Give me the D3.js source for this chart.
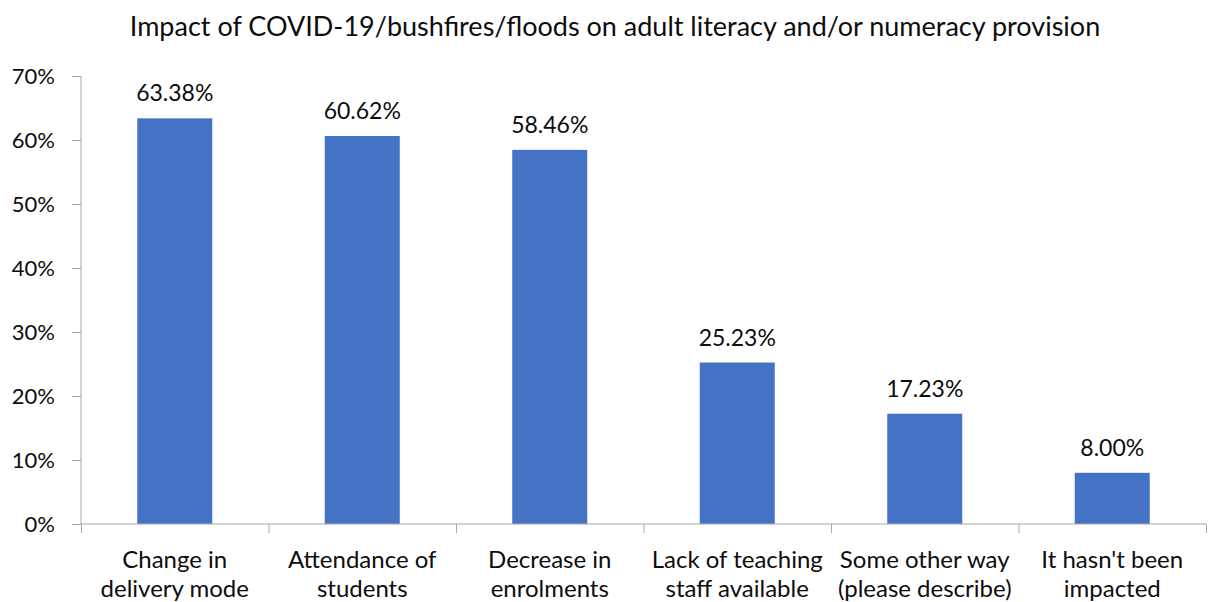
<!DOCTYPE html>
<html>
<head>
<meta charset="utf-8">
<script src="https://cdn.jsdelivr.net/npm/d3@7"></script>
<style>
  body { margin: 0; background: #fff; }
  svg text { font-family: Lato, "Open Sans", sans-serif; fill: #0d0d0d; }
</style>
</head>
<body>
<div id="chart"></div>
<script>
var chartTitle = "Impact of COVID-19/bushfires/floods on adult literacy and/or numeracy provision";
var categories = [
  ["Change in", "delivery mode"],
  ["Attendance of", "students"],
  ["Decrease in", "enrolments"],
  ["Lack of teaching", "staff available"],
  ["Some other way", "(please describe)"],
  ["It hasn't been", "impacted"]
];
var values = [63.38, 60.62, 58.46, 25.23, 17.23, 8.00];
var yTicks = [0, 10, 20, 30, 40, 50, 60, 70];

var W = 1208, H = 602;
var margin = {top: 76, right: 2, bottom: 78, left: 81},
    width = W - margin.left - margin.right,
    height = H - margin.top - margin.bottom;

var svg = d3.select("#chart").append("svg")
    .attr("width", W)
    .attr("height", H);

svg.append("text")
    .attr("x", 615)
    .attr("y", 36)
    .attr("text-anchor", "middle")
    .style("font-size", "27px")
    .text(chartTitle);

var g = svg.append("g")
    .attr("transform", "translate(" + margin.left + "," + margin.top + ")");

var x = d3.scaleBand()
    .domain(d3.range(categories.length))
    .range([0, width])
    .paddingInner(0.6)
    .paddingOuter(0.3);

var y = d3.scaleLinear()
    .domain([0, 70])
    .range([height, 0]);

// bars
g.selectAll(".bar")
    .data(values)
  .enter().append("rect")
    .attr("class", "bar")
    .attr("fill", "#4472c4")
    .attr("x", function(d, i) { return x(i); })
    .attr("width", x.bandwidth())
    .attr("y", function(d) { return y(d); })
    .attr("height", function(d) { return height - y(d); });

// value labels
g.selectAll(".lbl")
    .data(values)
  .enter().append("text")
    .attr("class", "lbl")
    .attr("text-anchor", "middle")
    .attr("x", function(d, i) { return x(i) + x.bandwidth() / 2; })
    .attr("y", function(d) { return y(d) - 17; })
    .style("font-size", "23px")
    .text(function(d) { return d.toFixed(2) + "%"; });

// y axis
var yAxis = g.append("g")
    .call(d3.axisLeft(y).tickValues(yTicks).tickSize(9).tickPadding(17)
      .tickFormat(function(d) { return d + "%"; }));
yAxis.select(".domain").attr("stroke", "#a6a6a6").attr("d", "M0," + height + "V0");
yAxis.selectAll(".tick line").attr("stroke", "#a6a6a6");
yAxis.selectAll("text").style("font-size", "22px").attr("fill", "#0d0d0d")
    .style("font-family", "Lato, sans-serif");

// x axis: ticks at band boundaries
var xb = d3.scaleLinear().domain([0, categories.length]).range([0, width]);
var xAxis = g.append("g")
    .attr("transform", "translate(0," + height + ")")
    .call(d3.axisBottom(xb).tickValues(d3.range(categories.length + 1)).tickSize(9).tickFormat(""));
xAxis.select(".domain").attr("stroke", "#a6a6a6").attr("d", "M0,0H" + width);
xAxis.selectAll(".tick line").attr("stroke", "#a6a6a6");

// category labels
var cat = g.selectAll(".cat")
    .data(categories)
  .enter().append("text")
    .attr("class", "cat")
    .attr("text-anchor", "middle")
    .attr("transform", function(d, i) { return "translate(" + (x(i) + x.bandwidth() / 2) + "," + (height + 44) + ")"; })
    .style("font-size", "24px");
cat.selectAll("tspan")
    .data(function(d) { return d; })
  .enter().append("tspan")
    .attr("x", 0)
    .attr("dy", function(d, i) { return i ? 29 : 0; })
    .text(function(d) { return d; });
</script>
</body>
</html>
